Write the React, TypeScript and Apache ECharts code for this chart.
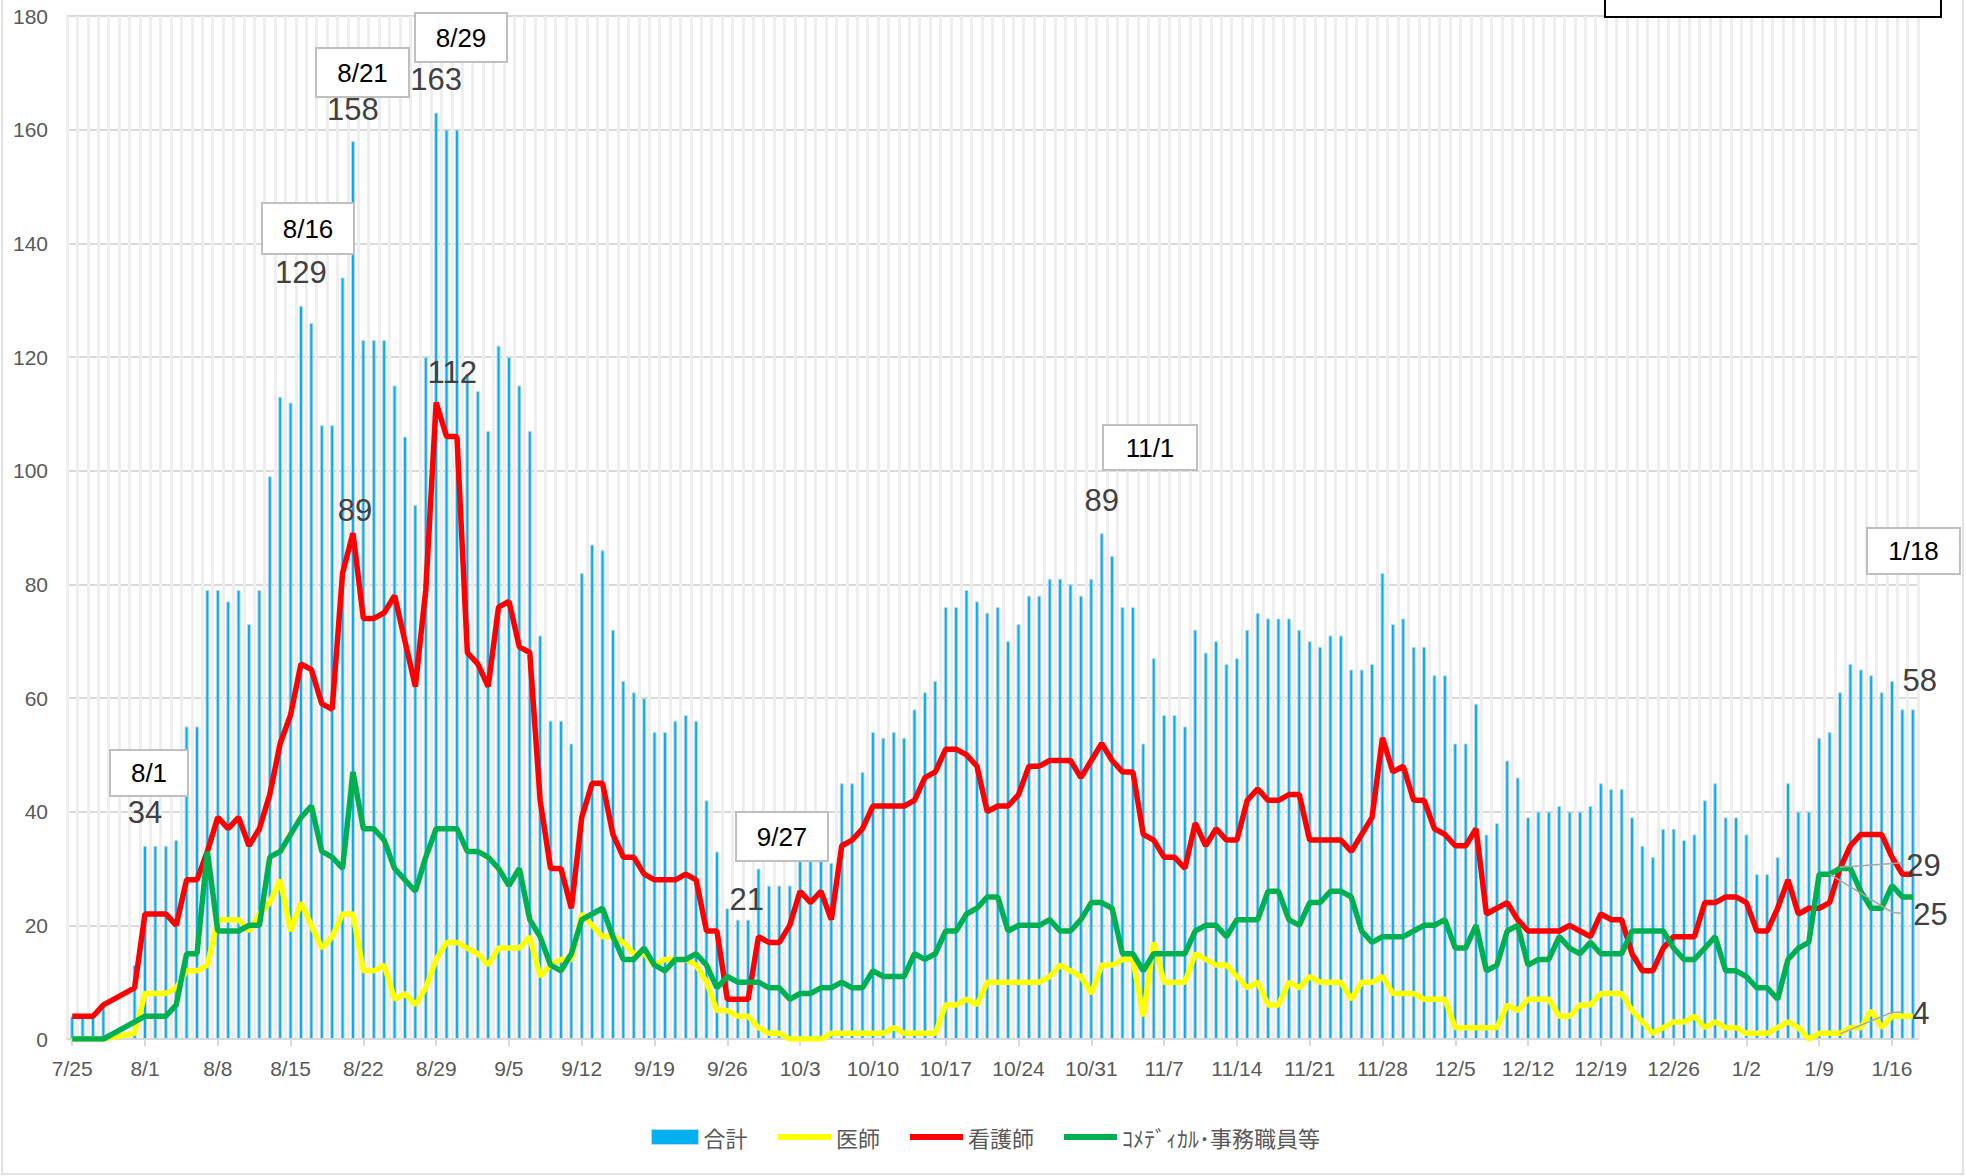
import React, { useEffect, useRef } from "react";
import * as echarts from "echarts";

// ---------- data ----------
const DAY_COUNT = 178; // 2020/7/25 .. 2021/1/18
const categories: string[] = Array.from({ length: DAY_COUNT }, (_, i) => {
  const d = new Date(2020, 6, 25 + i);
  return `${d.getMonth() + 1}/${d.getDate()}`;
});

const totalValues: (number | null)[] = [
  4, 4, 4, 6, null, null, 13, 34, 34, 34,
  35, 55, 55, 79, 79, 77, 79, 73, 79, 99,
  113, 112, 129, 126, 108, 108, 134, 158, 123, 123,
  123, 115, 106, 94, 120, 163, 160, 160, 117, 114,
  107, 122, 120, 115, 107, 71, 56, 56, 52, 82,
  87, 86, 72, 63, 61, 60, 54, 54, 56, 57,
  56, 42, 33, 23, 21, 21, 30, 27, 27, 27,
  34, 32, 35, 31, 45, 45, 47, 54, 53, 54,
  53, 58, 61, 63, 76, 76, 79, 77, 75, 76,
  70, 73, 78, 78, 81, 81, 80, 78, 81, 89,
  85, 76, 76, 52, 67, 57, 57, 55, 72, 68,
  70, 66, 67, 72, 75, 74, 74, 74, 72, 70,
  69, 71, 71, 65, 65, 66, 82, 73, 74, 69,
  69, 64, 64, 52, 52, 59, 36, 38, 49, 46,
  39, 40, 40, 41, 40, 40, 41, 45, 44, 44,
  39, 34, 32, 37, 37, 35, 36, 42, 45, 39,
  39, 36, 29, 29, 32, 45, 40, 40, 53, 54,
  61, 66, 65, 64, 61, 63, 58, 58,
];

const doctorValues: (number | null)[] = [
  0, 0, 0, 0, null, null, 1, 8, 8, 8,
  9, 12, 12, 13, 21, 21, 21, 19, 22, 24,
  28, 19, 24, 20, 16, 18, 22, 22, 12, 12,
  13, 7, 8, 6, 9, 14, 17, 17, 16, 15,
  13, 16, 16, 16, 18, 11, 13, 14, 14, 22,
  20, 18, 18, 17, 15, 15, 13, 14, 14, 14,
  13, 10, 5, 5, 4, 4, 2, 1, 1, 0,
  0, 0, 0, 1, 1, 1, 1, 1, 1, 2,
  1, 1, 1, 1, 6, 6, 7, 6, 10, 10,
  10, 10, 10, 10, 11, 13, 12, 11, 8, 13,
  13, 14, 14, 4, 17, 10, 10, 10, 15, 14,
  13, 13, 11, 9, 10, 6, 6, 10, 9, 11,
  10, 10, 10, 7, 10, 10, 11, 8, 8, 8,
  7, 7, 7, 2, 2, 2, 2, 2, 6, 5,
  7, 7, 7, 4, 4, 6, 6, 8, 8, 8,
  5, 3, 1, 2, 3, 3, 4, 2, 3, 2,
  2, 1, 1, 1, 2, 3, 2, 0, 1, 1,
  1, 2, 2, 5, 2, 4, 4, 4,
];

const nurseValues: (number | null)[] = [
  4, 4, 4, 6, null, null, 9, 22, 22, 22,
  20, 28, 28, 33, 39, 37, 39, 34, 37, 43,
  52, 57, 66, 65, 59, 58, 82, 89, 74, 74,
  75, 78, 70, 62, 79, 112, 106, 106, 68, 66,
  62, 76, 77, 69, 68, 42, 30, 30, 23, 39,
  45, 45, 36, 32, 32, 29, 28, 28, 28, 29,
  28, 19, 19, 7, 7, 7, 18, 17, 17, 20,
  26, 24, 26, 21, 34, 35, 37, 41, 41, 41,
  41, 42, 46, 47, 51, 51, 50, 48, 40, 41,
  41, 43, 48, 48, 49, 49, 49, 46, 49, 52,
  49, 47, 47, 36, 35, 32, 32, 30, 38, 34,
  37, 35, 35, 42, 44, 42, 42, 43, 43, 35,
  35, 35, 35, 33, 36, 39, 53, 47, 48, 42,
  42, 37, 36, 34, 34, 37, 22, 23, 24, 21,
  19, 19, 19, 19, 20, 19, 18, 22, 21, 21,
  15, 12, 12, 16, 18, 18, 18, 24, 24, 25,
  25, 24, 19, 19, 23, 28, 22, 23, 23, 24,
  30, 34, 36, 36, 36, 32, 29, 29,
];

const comedicalValues: (number | null)[] = [
  0, 0, 0, 0, null, null, 3, 4, 4, 4,
  6, 15, 15, 33, 19, 19, 19, 20, 20, 32,
  33, 36, 39, 41, 33, 32, 30, 47, 37, 37,
  35, 30, 28, 26, 32, 37, 37, 37, 33, 33,
  32, 30, 27, 30, 21, 18, 13, 12, 15, 21,
  22, 23, 18, 14, 14, 16, 13, 12, 14, 14,
  15, 13, 9, 11, 10, 10, 10, 9, 9, 7,
  8, 8, 9, 9, 10, 9, 9, 12, 11, 11,
  11, 15, 14, 15, 19, 19, 22, 23, 25, 25,
  19, 20, 20, 20, 21, 19, 19, 21, 24, 24,
  23, 15, 15, 12, 15, 15, 15, 15, 19, 20,
  20, 18, 21, 21, 21, 26, 26, 21, 20, 24,
  24, 26, 26, 25, 19, 17, 18, 18, 18, 19,
  20, 20, 21, 16, 16, 20, 12, 13, 19, 20,
  13, 14, 14, 18, 16, 15, 17, 15, 15, 15,
  19, 19, 19, 19, 16, 14, 14, 16, 18, 12,
  12, 11, 9, 9, 7, 14, 16, 17, 29, 29,
  30, 30, 26, 23, 23, 27, 25, 25,
];

const seriesNames = ["合計", "医師", "看護師", "ｺﾒﾃﾞｨｶﾙ･事務職員等"];

// ---------- annotation styling (positions / offsets) ----------
const VALUE_FONT = { fontFamily: "Liberation Sans", fontSize: 31, color: "#404040" };

// bar value labels: index -> [distance, dx]
const barLabelSpec: Record<number, [number, number]> = {
  7: [18, 0],
  22: [18, 0],
  27: [16, 0],
  35: [18, 0],
  64: [5, 9],
  99: [17, 0],
  177: [13, 7],
};
// line labels: index -> {position, distance, offset}
const nurseLabelSpec: Record<number, any> = {
  27: { position: "top", distance: 7, offset: [2, 0] },
  35: { position: "top", distance: 14, offset: [16, 0] },
  177: { position: "right", distance: 0, offset: [-7, -9] },
};
const comedicalLabelSpec: Record<number, any> = {
  177: { position: "right", distance: 0, offset: [0, 18] },
};
const doctorLabelSpec: Record<number, any> = {
  177: { position: "right", distance: 0, offset: [-1, -3] },
};

// date boxes: [text, x, y, w, h]
const dateBoxes: [string, number, number, number, number][] = [
  ["8/1", 110, 750, 78, 46],
  ["8/16", 262, 203, 92, 51],
  ["8/21", 316, 48, 93, 49],
  ["8/29", 415, 13, 92, 49],
  ["9/27", 736, 812, 92, 49],
  ["11/1", 1103, 425, 94, 45],
  ["1/18", 1867, 528, 93, 46],
];

// leader lines in (category index, value) space
const leaderLines: [number, number][][] = [
  [[170, 30.2], [176, 31]],
  [[169, 29], [174.7, 22.3], [176, 22.1]],
  [[170, 0.9], [175.2, 4.7], [176, 4.7]],
];

const LINE_WIDTH = 5.5;

function withBarLabels(values: (number | null)[]) {
  return values.map((v, i) => {
    const spec = barLabelSpec[i];
    if (!spec || v == null) return v;
    return {
      value: v,
      label: {
        show: true,
        position: "top",
        distance: spec[0],
        offset: [spec[1], 0],
        ...VALUE_FONT,
      },
    };
  });
}

function withLineLabels(values: (number | null)[], specs: Record<number, any>, color: string) {
  return values.map((v, i) => {
    const spec = specs[i];
    if (!spec || v == null) return v;
    return {
      value: v,
      symbol: "circle",
      symbolSize: 1,
      itemStyle: { color },
      label: { show: true, ...spec, ...VALUE_FONT },
    };
  });
}

function lineSeries(name: string, values: (number | null)[], color: string, specs: Record<number, any>) {
  return {
    name,
    type: "line",
    data: withLineLabels(values, specs, color),
    symbol: "none",
    showSymbol: true,
    showAllSymbol: true,
    connectNulls: true,
    lineStyle: { color, width: LINE_WIDTH },
    itemStyle: { color },
    emphasis: { disabled: true },
    z: 3,
  };
}

const legendText = { fontFamily: "Noto Sans CJK JP", fontSize: 22, color: "#595959" };

function buildOption() {
  return {
    animation: false,
    backgroundColor: "#ffffff",
    textStyle: { fontFamily: "Liberation Sans" },
    grid: { left: 67, right: 48, top: 16, bottom: 137, containLabel: false },
    legend: [
      {
        top: 1121,
        left: 646,
        itemWidth: 47,
        itemHeight: 15,
        data: [seriesNames[0]],
        icon: "rect",
        itemStyle: { borderColor: "#bdd7ee", borderWidth: 1 },
        textStyle: legendText,
      },
      {
        top: 1121,
        left: 773,
        itemWidth: 53,
        itemHeight: 6,
        itemGap: 30,
        icon: "rect",
        itemStyle: { borderWidth: 0 },
        data: seriesNames.slice(1),
        textStyle: legendText,
      },
    ],
    xAxis: {
      type: "category",
      data: categories,
      boundaryGap: true,
      axisLine: { lineStyle: { color: "#d9d9d9", width: 2 } },
      axisTick: {
        show: true,
        interval: 6,
        alignWithLabel: true,
        length: 7,
        lineStyle: { color: "#d9d9d9", width: 2 },
      },
      axisLabel: {
        interval: 6,
        color: "#595959",
        fontSize: 21,
        margin: 19,
        fontFamily: "Liberation Sans",
      },
      splitLine: { show: true, interval: 0, lineStyle: { color: "#eeeeee", width: 3 } },
    },
    yAxis: {
      type: "value",
      min: 0,
      max: 180,
      interval: 20,
      axisLine: { show: false },
      axisTick: { show: false },
      axisLabel: { color: "#595959", fontSize: 21, margin: 19, fontFamily: "Liberation Sans" },
      splitLine: { lineStyle: { color: "#d9d9d9", width: 2 } },
    },
    series: [
      {
        name: seriesNames[0],
        type: "bar",
        data: withBarLabels(totalValues),
        barWidth: 4,
        itemStyle: { color: "#00b0f0", borderColor: "#bdd7ee", borderWidth: 1 },
        emphasis: { disabled: true },
        z: 2,
      },
      lineSeries(seriesNames[1], doctorValues, "#ffff00", doctorLabelSpec),
      lineSeries(seriesNames[2], nurseValues, "#ff0000", nurseLabelSpec),
      lineSeries(seriesNames[3], comedicalValues, "#00b050", comedicalLabelSpec),
    ],
  };
}

function staticGraphics() {
  const els: any[] = [];
  // outer chart border
  els.push({
    type: "rect",
    silent: true,
    z: 0,
    shape: { x: 2, y: -10, width: 1961, height: 1184 },
    style: { fill: "none", stroke: "#d9d9d9", lineWidth: 1.5 },
  });
  // cut-off box at top right
  els.push({
    type: "rect",
    silent: true,
    z: 100,
    shape: { x: 1605, y: -10, width: 336, height: 27 },
    style: { fill: "#ffffff", stroke: "#000000", lineWidth: 2 },
  });
  dateBoxes.forEach(([text, x, y, w, h]) => {
    els.push({
      type: "rect",
      silent: true,
      z: 100,
      shape: { x, y, width: w, height: h },
      style: { fill: "#ffffff", stroke: "#bfbfbf", lineWidth: 2 },
    });
    els.push({
      type: "text",
      silent: true,
      z: 101,
      x: x + w / 2,
      y: y + h / 2,
      style: {
        text,
        fill: "#000000",
        fontSize: 26,
        fontFamily: "Liberation Sans",
        align: "center",
        verticalAlign: "middle",
      },
    });
  });
  return els;
}

export default function App() {
  const ref = useRef<HTMLDivElement>(null);
  useEffect(() => {
    if (!ref.current) return;
    const chart = echarts.init(ref.current, null, { renderer: "svg" });
    chart.setOption(buildOption() as any);
    const leaders = leaderLines.map((pts) => ({
      type: "polyline",
      silent: true,
      z: 90,
      shape: { points: pts.map((p) => chart.convertToPixel({ gridIndex: 0 }, p) as number[]) },
      style: { fill: "none", stroke: "#a6a6a6", lineWidth: 1.5 },
    }));
    chart.setOption({ graphic: { elements: [...staticGraphics(), ...leaders] } } as any);
    return () => chart.dispose();
  }, []);
  return (
    <div
      ref={ref}
      style={{ position: "fixed", left: 0, top: 0, width: 1966, height: 1176, background: "#fff" }}
    />
  );
}
